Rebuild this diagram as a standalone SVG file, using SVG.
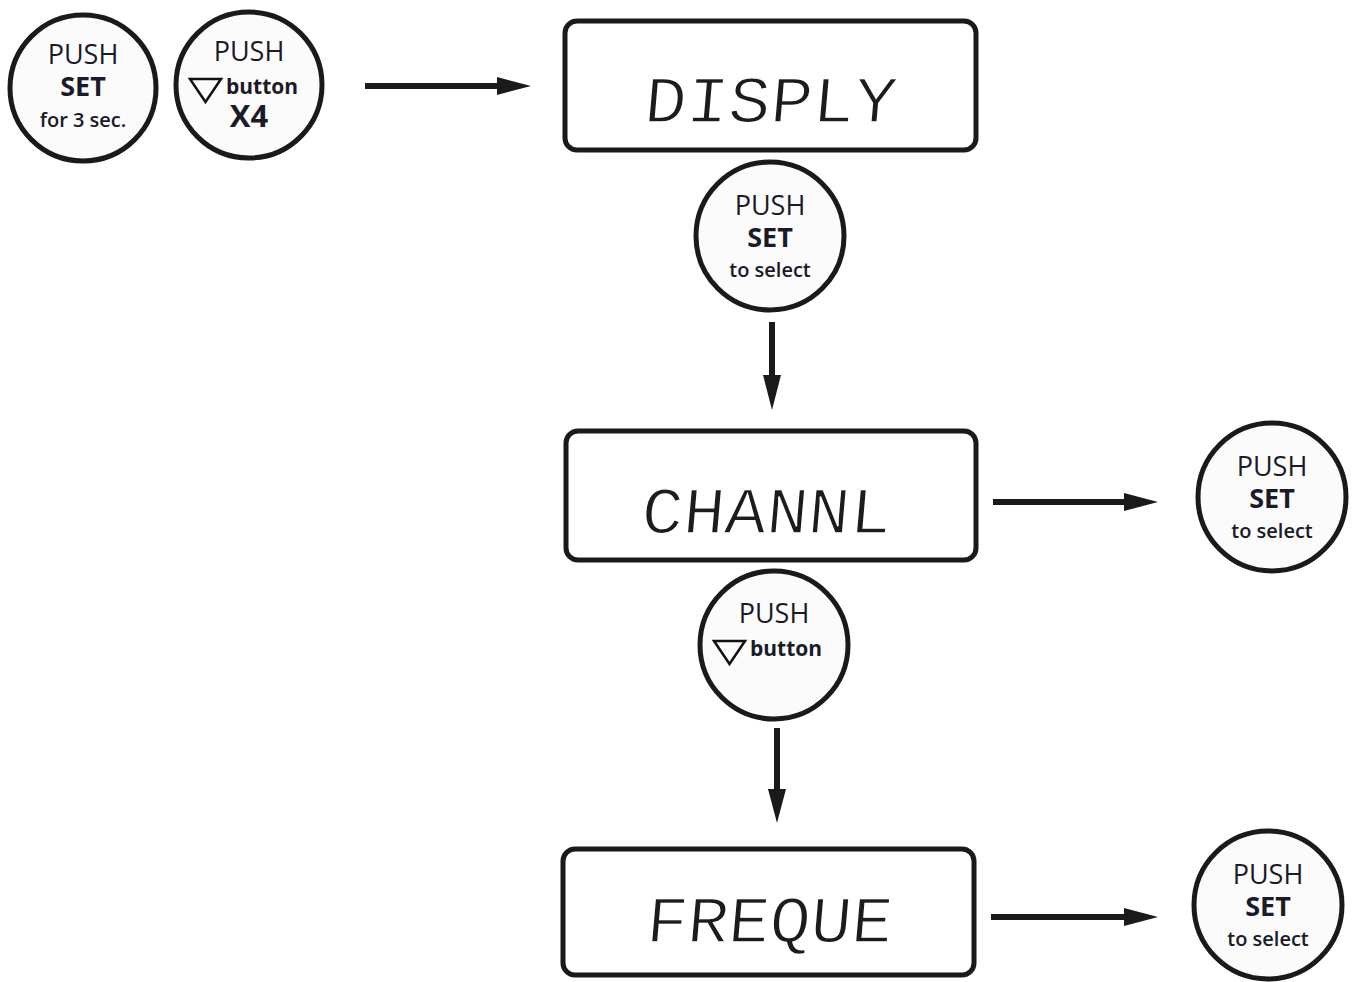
<svg xmlns="http://www.w3.org/2000/svg" width="1357" height="982" viewBox="0 0 1357 982">
<defs>
<style>
.btn{fill:#fbfbfb;stroke:#1a1a1a;stroke-width:5}
.lcd{fill:#ffffff;stroke:#1a1a1a;stroke-width:5}
.t{font-family:"Open Sans","Noto Sans",sans-serif;fill:#1a1a28;text-anchor:middle}
.push{font-size:27px;font-weight:400}
.set{font-size:27px;font-weight:700}
.sub{font-size:20px;font-weight:600}
.btxt{font-size:21px;font-weight:700;text-anchor:start}
.x4{font-size:31px;font-weight:700}
.tri{fill:none;stroke:#111;stroke-width:2.5;stroke-linejoin:miter}
.seg{font-family:"Liberation Mono","DejaVu Sans Mono",monospace;font-size:66px;fill:#1c1c1c;stroke:#ffffff;stroke-width:1.4}
.conn{stroke:#1a1a1a;stroke-width:6;fill:none}
.head{fill:#1a1a1a}
</style>
</defs>
<rect width="1357" height="982" fill="#ffffff"/>

<g id="btn-set-3sec">
<circle class="btn" cx="83" cy="88" r="73"/>
<text class="t push" x="83" y="64">PUSH</text>
<text class="t set" x="83" y="96">SET</text>
<text class="t sub" x="83" y="127">for 3 sec.</text>
</g>

<g id="btn-down-x4">
<circle class="btn" cx="249" cy="85" r="73"/>
<text class="t push" x="249" y="61">PUSH</text>
<polygon class="tri" points="190,79 221,79 205.5,102"/>
<text class="t btxt" x="226" y="94">button</text>
<text class="t x4" x="249" y="127">X4</text>
</g>

<g id="lcd-display">
<rect class="lcd" x="565" y="21" width="411" height="129" rx="12"/>
<text class="seg" x="643" y="122" textLength="252" lengthAdjust="spacingAndGlyphs" transform="skewX(-5) translate(10.7,0)">DISPLY</text>
</g>

<g id="btn-set-select-1">
<circle class="btn" cx="770" cy="236" r="74"/>
<text class="t push" x="770" y="215">PUSH</text>
<text class="t set" x="770" y="247">SET</text>
<text class="t sub" x="770" y="277">to select</text>
</g>

<g id="lcd-channel">
<rect class="lcd" x="566" y="431" width="410" height="129" rx="12"/>
<text class="seg" x="640" y="533" textLength="250" lengthAdjust="spacingAndGlyphs" transform="skewX(-5) translate(46.6,0)">CHANNL</text>
</g>

<g id="btn-set-select-2">
<circle class="btn" cx="1272" cy="497" r="74"/>
<text class="t push" x="1272" y="476">PUSH</text>
<text class="t set" x="1272" y="508">SET</text>
<text class="t sub" x="1272" y="538">to select</text>
</g>

<g id="btn-down">
<circle class="btn" cx="774" cy="645" r="74"/>
<text class="t push" x="774" y="623">PUSH</text>
<polygon class="tri" points="714,641 745,641 729.5,664"/>
<text class="t btxt" x="750" y="656">button</text>
</g>

<g id="lcd-frequency">
<rect class="lcd" x="563" y="849" width="411" height="126" rx="12"/>
<text class="seg" x="645" y="942" textLength="246" lengthAdjust="spacingAndGlyphs" transform="skewX(-5) translate(82.4,0)">FREQUE</text>
</g>

<g id="btn-set-select-3">
<circle class="btn" cx="1268" cy="905" r="74"/>
<text class="t push" x="1268" y="884">PUSH</text>
<text class="t set" x="1268" y="916">SET</text>
<text class="t sub" x="1268" y="946">to select</text>
</g>

<g id="connectors">
<line class="conn" x1="365" y1="86" x2="500" y2="86"/>
<polygon class="head" points="497,77 531,86 497,95"/>
<line class="conn" x1="772" y1="322" x2="772" y2="378"/>
<polygon class="head" points="763,375 772,410 781,375"/>
<line class="conn" x1="993" y1="502" x2="1127" y2="502"/>
<polygon class="head" points="1124,493 1158,502 1124,511"/>
<line class="conn" x1="777" y1="728" x2="777" y2="792"/>
<polygon class="head" points="768,789 777,823 786,789"/>
<line class="conn" x1="991" y1="917" x2="1127" y2="917"/>
<polygon class="head" points="1124,908 1158,917 1124,926"/>
</g>
</svg>
